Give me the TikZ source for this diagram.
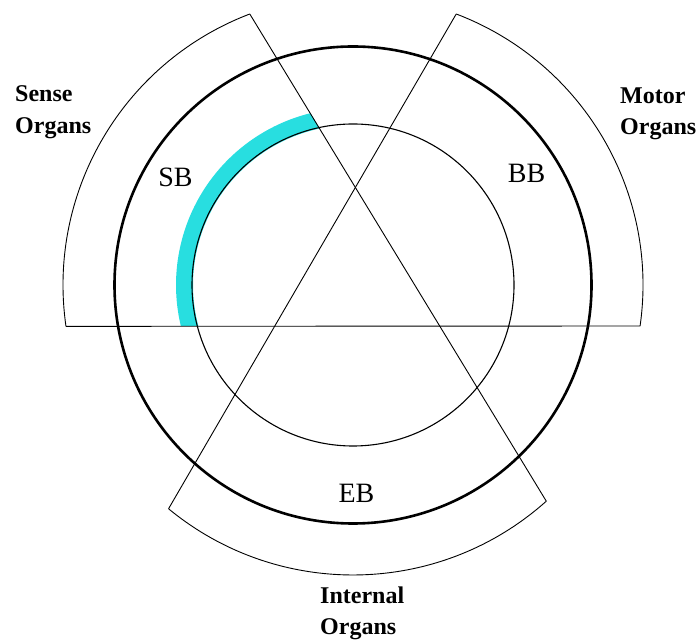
\documentclass[tikz,border=0pt]{standalone}
\usepackage{fontspec}
\setmainfont{Liberation Serif}
\usetikzlibrary{calc}
\definecolor{bandcyan}{RGB}{40,222,224}
\tikzset{
  thinline/.style={draw=black, line width=0.9pt},
  thickline/.style={draw=black, line width=2.6pt},
  innerline/.style={draw=black, line width=1.1pt},
  organlabel/.style={font=\fontsize{24}{28}\selectfont\bfseries, inner sep=0pt, anchor=base west},
  banklabel/.style={font=\fontsize{28}{32}\selectfont, inner sep=0pt, anchor=base},
}
\begin{document}
\begin{tikzpicture}[x=1pt,y=1pt]
\useasboundingbox (0,0) rectangle (700,639);
\fill[white] (0,0) rectangle (700,639);
\coordinate (O) at (353,354);
% sector corners on radius 290
\coordinate (A1) at ($(O)+(188.2:290)$);
\coordinate (A2) at ($(O)+(110.85:290)$);
\coordinate (B1) at ($(O)+(69.15:290)$);
\coordinate (B2) at ($(O)+(-8.13:290)$);
\coordinate (C1) at ($(O)+(230.5:290)$);
\coordinate (C2) at ($(O)+(311.8:290)$);
% cyan band
\begin{scope}
  \clip (0,313) -- (439.7,313) -- (241.7,639) -- (0,639) -- cycle;
  \draw[bandcyan, line width=17pt] ($(O)+(92:168.5)$) arc[start angle=92, end angle=205, radius=168.5pt];
\end{scope}
% circles
\draw[innerline] (O) circle[radius=161pt];
\draw[thickline] (O) circle[radius=238.5pt];
% triangle lines
\draw[thinline] (A1) -- (B2);
\draw[thinline] (A2) -- (C2);
\draw[thinline] (B1) -- (C1);
% outer arcs
\draw[thinline] (A2) arc[start angle=110.85, end angle=188.2, radius=290pt];
\draw[thinline] (B2) arc[start angle=-8.13, end angle=69.15, radius=290pt];
\draw[thinline] (C1) arc[start angle=230.5, end angle=311.8, radius=290pt];
% labels
\node[organlabel] (sense1) at (15,537) {Sense};
\node[organlabel] (sense2) at (15,505) {Organs};
\node[organlabel] (motor1) at (620,535) {Motor};
\node[organlabel] (motor2) at (620,504) {Organs};
\node[organlabel] (int1) at (320,36) {Internal};
\node[organlabel] (int2) at (320,5) {Organs};
\node[banklabel] (sb) at (175.5,452) {SB};
\node[banklabel] (bb) at (526.5,456) {BB};
\node[banklabel] (eb) at (356.5,136) {EB};
\end{tikzpicture}
\end{document}
